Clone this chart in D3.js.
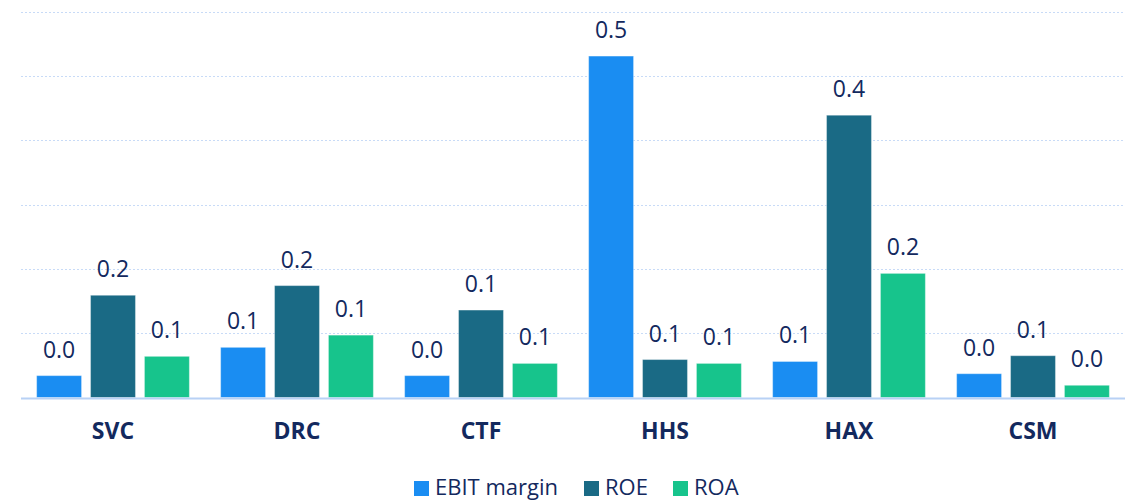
<!DOCTYPE html>
<meta charset="utf-8">
<style>
    body { margin: 0; background: #fff; }
    .val { font: 23px "Open Sans", sans-serif; fill: #13295e; text-anchor: middle; }
    .cat { font: bold 23px "Open Sans", sans-serif; fill: #13295e; text-anchor: middle; }
    .leg { font: 22px "Open Sans", sans-serif; fill: #13295e; }
</style>
<svg width="1137" height="501"></svg>
<script src="https://d3js.org/d3.v7.min.js"></script>
<script>

    var companies = ["SVC", "DRC", "CTF", "HHS", "HAX", "CSM"];
    var seriesNames = ["EBIT margin", "ROE", "ROA"];
    var ebitMargin = [0.034, 0.078, 0.034, 0.531, 0.056, 0.037];
    var roe = [0.159, 0.174, 0.136, 0.059, 0.439, 0.065];
    var roa = [0.064, 0.097, 0.053, 0.053, 0.193, 0.019];
    var colors = ["#1a8df2", "#1a6a85", "#17c48c"];
    var yTicks = [0, 0.1, 0.2, 0.3, 0.4, 0.5, 0.6];

    var seriesValues = [ebitMargin, roe, roa];

    var svg = d3.select("svg"),
        plotLeft = 21, plotRight = 1125, plotTop = 11.7, plotBottom = 397.5;

    var x0 = d3.scaleBand()
        .domain(companies)
        .range([plotLeft, plotRight])
        .paddingInner(0.17)
        .paddingOuter(0.085);

    var x1 = d3.scaleBand()
        .domain(seriesNames)
        .range([0, x0.bandwidth()])
        .paddingInner(0.167);

    var y = d3.scaleLinear()
        .domain([0, 0.6])
        .range([plotBottom, plotTop]);

    // gridlines
    svg.append("g")
        .selectAll("line")
        .data(yTicks.slice(1))
        .enter().append("line")
        .attr("x1", plotLeft)
        .attr("x2", plotRight)
        .attr("y1", function (d) { return Math.round(y(d)) + 0.5; })
        .attr("y2", function (d) { return Math.round(y(d)) + 0.5; })
        .style("stroke", "#c8dbf7")
        .style("stroke-width", 1)
        .style("stroke-dasharray", "2,2");

    var groups = svg.append("g")
        .selectAll("g")
        .data(companies)
        .enter().append("g")
        .attr("transform", function (d) { return "translate(" + x0(d) + ",0)"; });

    groups.selectAll("rect")
        .data(function (c, i) {
            return seriesNames.map(function (s, j) { return {s: s, v: seriesValues[j][i], k: j}; });
        })
        .enter().append("rect")
        .attr("x", function (d) { return x1(d.s); })
        .attr("width", x1.bandwidth())
        .attr("y", function (d) { return y(d.v); })
        .attr("height", function (d) { return y(0) - y(d.v); })
        .style("fill", function (d) { return colors[d.k]; })
        .style("stroke", "#fff")
        .style("stroke-opacity", 0.35)
        .style("stroke-width", 1);

    groups.selectAll("text")
        .data(function (c, i) {
            return seriesNames.map(function (s, j) { return {s: s, v: seriesValues[j][i]}; });
        })
        .enter().append("text")
        .attr("class", "val")
        .attr("x", function (d) { return x1(d.s) + x1.bandwidth() / 2; })
        .attr("y", function (d) { return y(d.v) - 18; })
        .text(function (d) { return d3.format(".1f")(d.v); });

    // baseline
    svg.append("line")
        .attr("x1", plotLeft)
        .attr("x2", plotRight)
        .attr("y1", y(0) + 1)
        .attr("y2", y(0) + 1)
        .style("stroke", "#b8d1f5")
        .style("stroke-width", 2);

    // category labels
    svg.append("g")
        .selectAll("text")
        .data(companies)
        .enter().append("text")
        .attr("class", "cat")
        .attr("x", function (d) { return x0(d) + x0.bandwidth() / 2; })
        .attr("y", 439)
        .text(function (d) { return d; });

    // legend
    var legX = [414, 584, 673];
    var leg = svg.append("g")
        .selectAll("g")
        .data(seriesNames)
        .enter().append("g")
        .attr("transform", function (d, i) { return "translate(" + legX[i] + ",481)"; });

    leg.append("rect")
        .attr("width", 15)
        .attr("height", 15)
        .style("fill", function (d, i) { return colors[i]; });

    leg.append("text")
        .attr("class", "leg")
        .attr("x", 21)
        .attr("y", 14)
        .text(function (d) { return d; });
</script>
